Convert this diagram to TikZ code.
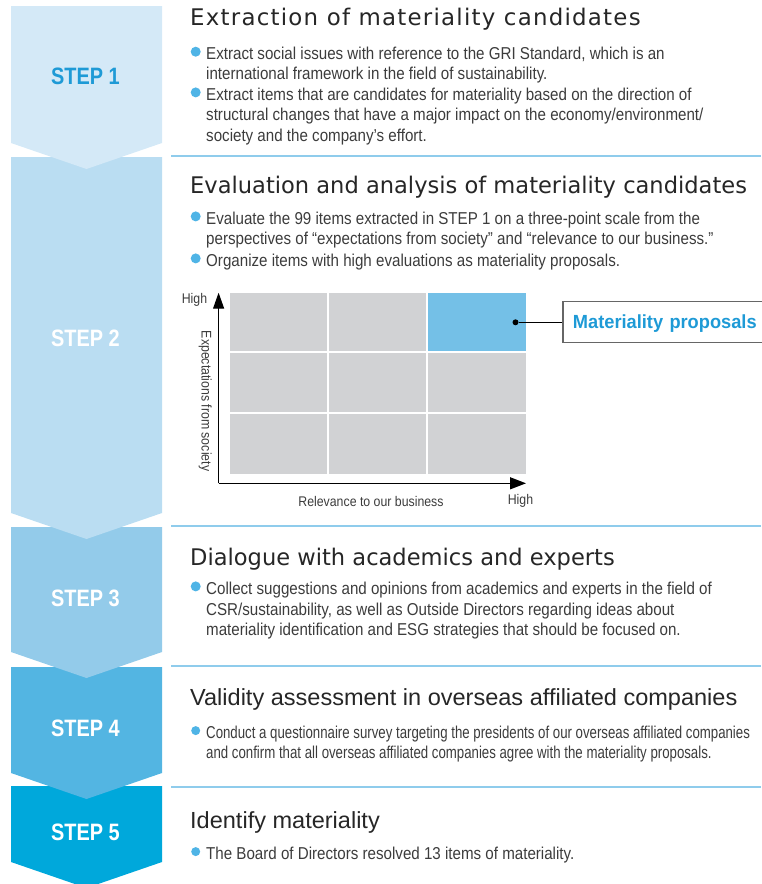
\documentclass[tikz,border=0pt]{standalone}
\usepackage{fontspec}
\setmainfont{Liberation Sans}
\newfontfamily\bodyfont[FakeStretch=0.88]{Liberation Sans}
\newfontfamily\narrowfont[FakeStretch=0.77]{Liberation Sans}
\newfontfamily\stepfont[FakeStretch=0.84]{Liberation Sans}
\newfontfamily\boxfont[FakeStretch=0.96]{Liberation Sans}
\newfontfamily\titlefont[FakeStretch=0.985]{DejaVu Sans}
\newfontfamily\titlewide[LetterSpace=5.4]{DejaVu Sans}
\newfontfamily\titlehelv[FakeStretch=1.01]{Liberation Sans}
\usetikzlibrary{arrows.meta}

\definecolor{stepa}{HTML}{D4E9F7}
\definecolor{stepb}{HTML}{BADDF2}
\definecolor{stepc}{HTML}{93CBEA}
\definecolor{stepd}{HTML}{53B5E2}
\definecolor{stepe}{HTML}{00A8DB}
\definecolor{stepblue}{HTML}{1E9AD6}
\definecolor{sepblue}{HTML}{8FCCEC}
\definecolor{bulblue}{HTML}{4FB4E6}
\definecolor{cellgray}{HTML}{D1D2D4}
\definecolor{cellblue}{HTML}{74C0E7}
\definecolor{titlegray}{HTML}{262626}
\definecolor{bodygray}{HTML}{3C3C3C}

\begin{document}
\begin{tikzpicture}[x=1pt,y=-1pt,
  title/.style={anchor=base west,inner sep=0pt,text=titlegray},
  body/.style={anchor=base west,inner sep=0pt,align=left,text=bodygray,font=\bodyfont\fontsize{17.2pt}{20.5pt}\selectfont},
  bul/.style={circle,fill=bulblue,inner sep=0pt,minimum size=10pt},
  steplabel/.style={anchor=base,inner sep=0pt,text=white,font=\stepfont\bfseries\fontsize{23.7pt}{26pt}\selectfont},
  sepline/.style={sepblue,line width=2pt},
  chartlbl/.style={inner sep=0pt,text=bodygray,font=\bodyfont\fontsize{14pt}{16pt}\selectfont}]
  \useasboundingbox (0,0) rectangle (761,884);

  % arrows, last step first so each tip lies over the next box
  \fill [stepe] (11,786) -- (162,786) -- (162,862) -- (86.5,888) -- (11,862) -- cycle;
  \fill [stepd] (11,667) -- (162,667) -- (162,773) -- (86.5,799) -- (11,773) -- cycle;
  \fill [stepc] (11,527) -- (162,527) -- (162,652) -- (86.5,678) -- (11,652) -- cycle;
  \fill [stepb] (11,157) -- (162,157) -- (162,513) -- (86.5,539) -- (11,513) -- cycle;
  \fill [stepa] (11,6) -- (162,6) -- (162,143) -- (86.5,169) -- (11,143) -- cycle;

  \node [steplabel,text=stepblue] (s1) at (85.5,84) {STEP 1};
  \node [steplabel] (s2) at (85.5,346.5) {STEP 2};
  \node [steplabel] (s3) at (85.5,606) {STEP 3};
  \node [steplabel] (s4) at (85.5,736.7) {STEP 4};
  \node [steplabel] (s5) at (85.5,840.7) {STEP 5};

  \draw [sepline] (171,156) -- (761,156);
  \draw [sepline] (171,525.7) -- (761,525.7);
  \draw [sepline] (171,665.7) -- (761,665.7);
  \draw [sepline] (171,786.7) -- (761,786.7);

  % step 1 (body nodes sit on the baseline of their last line)
  \node [title,font=\titlewide\fontsize{22.9pt}{26pt}\selectfont] (t1) at (190,25.7) {Extraction of materiality candidates};
  \node [bul] (b11) at (195.7,51.7) {};
  \node [body] (x11) at (206,79.6) {Extract social issues with reference to the GRI Standard, which is an\\international framework in the field of sustainability.};
  \node [bul] (b12) at (195.7,92.4) {};
  \node [body] (x12) at (206,141) {Extract items that are candidates for materiality based on the direction of\\structural changes that have a major impact on the economy/environment/\\society and the company’s effort.};

  % step 2
  \node [title,font=\titlefont\fontsize{22.9pt}{26pt}\selectfont] (t2) at (190,193.3) {Evaluation and analysis of materiality candidates};
  \node [bul] (b21) at (195.7,216.4) {};
  \node [body] (x21) at (206,244.5) {Evaluate the 99 items extracted in STEP 1 on a three-point scale from the\\perspectives of “expectations from society” and “relevance to our business.”};
  \node [bul] (b22) at (195.7,258.4) {};
  \node [body] (x22) at (206,266) {Organize items with high evaluations as materiality proposals.};

  % matrix
  \fill [cellgray] (230,292.7) rectangle (526,473.7);
  \fill [cellblue] (427,292.7) rectangle (526,352);
  \draw [white,line width=1.5pt] (328,292.7) -- (328,473.7) (427,292.7) -- (427,473.7)
    (230,352) -- (526,352) (230,413) -- (526,413);
  \coordinate (org) at (218.6,483.3);
  \coordinate (ytip) at (218.6,292.7);
  \coordinate (xtip) at (526,483.3);
  \draw [-{Triangle[length=16pt,width=11pt]},line width=1.2pt] (org) -- (ytip);
  \draw [-{Triangle[length=16pt,width=12pt]},line width=1.2pt] (org) -- (xtip);
  \node [chartlbl] (hy) at (194.5,300) {High};
  \node [chartlbl] (hx) at (520.5,501) {High};
  \node [chartlbl] (lx) at (371,501) {Relevance to our business};
  \node [chartlbl,rotate=-90] (ly) at (205.2,401) {Expectations from society};
  \node [circle,fill=black,inner sep=0pt,minimum size=6pt] (dot) at (515.5,322.3) {};
  \node [draw=black!60,line width=1.3pt,anchor=west,minimum height=41pt,text width=190pt,inner xsep=10pt,align=left,
    text height=15pt,text depth=2pt,text=stepblue,font=\boxfont\bfseries\fontsize{19pt}{22pt}\selectfont] (mp) at (562.3,322.3) {Materiality proposals};
  \draw [line width=1pt] (dot) -- (mp.west);

  % step 3
  \node [title,font=\titlefont\fontsize{22.9pt}{26pt}\selectfont] (t3) at (190,565) {Dialogue with academics and experts};
  \node [bul] (b31) at (195.7,586.4) {};
  \node [body] (x31) at (206,635.5) {Collect suggestions and opinions from academics and experts in the field of\\CSR/sustainability, as well as Outside Directors regarding ideas about\\materiality identification and ESG strategies that should be focused on.};

  % step 4
  \node [title,font=\titlehelv\fontsize{23.3pt}{26pt}\selectfont] (t4) at (190,705) {Validity assessment in overseas affiliated companies};
  \node [bul,minimum size=9pt] (b41) at (195.7,730.6) {};
  \node [body,font=\narrowfont\fontsize{17.2pt}{20pt}\selectfont] (x41) at (206,758) {Conduct a questionnaire survey targeting the presidents of our overseas affiliated companies\\and confirm that all overseas affiliated companies agree with the materiality proposals.};

  % step 5
  \node [title,font=\titlehelv\fontsize{23.3pt}{26pt}\selectfont] (t5) at (190,828) {Identify materiality};
  \node [bul,minimum size=9pt] (b51) at (195.7,851.6) {};
  \node [body] (x51) at (206,859) {The Board of Directors resolved 13 items of materiality.};
\end{tikzpicture}
\end{document}
